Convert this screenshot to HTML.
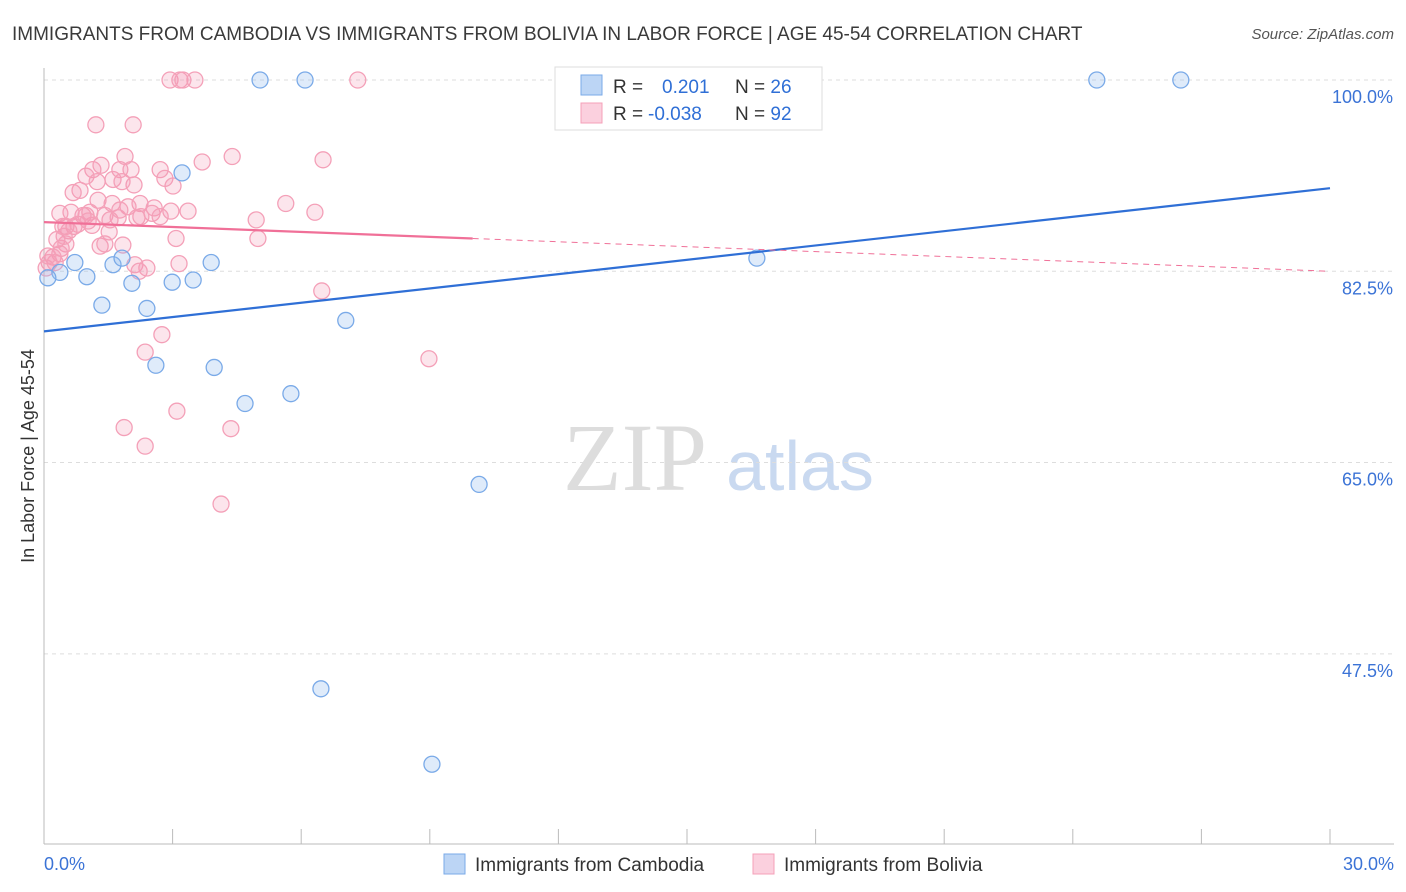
<!DOCTYPE html>
<html><head><meta charset="utf-8"><style>
body{margin:0;background:#fff;font-family:"Liberation Sans",sans-serif;}
svg{display:block}
</style></head><body>
<svg id="chart" width="1406" height="892" xmlns="http://www.w3.org/2000/svg">
<text x="12" y="40" font-size="19" fill="#3a3a3a">IMMIGRANTS FROM CAMBODIA VS IMMIGRANTS FROM BOLIVIA IN LABOR FORCE | AGE 45-54 CORRELATION CHART</text>
<text x="1394" y="39" font-size="15" fill="#555" font-style="italic" text-anchor="end">Source: ZipAtlas.com</text>
<text x="34" y="456" font-size="18" fill="#333" text-anchor="middle" transform="rotate(-90 34 456)">In Labor Force | Age 45-54</text>
<g>
<text x="635" y="490" font-size="96" fill="#ddd" font-family="Liberation Serif,serif" text-anchor="middle">ZIP</text>
<text x="800" y="490" font-size="70" fill="#c9d9f0" text-anchor="middle">atlas</text>
</g>
<g id="grid"></g><g id="axes"></g><g id="marks"></g><g id="lines"></g>
<g>
<rect x="555" y="67" width="267" height="63" fill="#fff" stroke="#ddd"/>
<rect x="581" y="75" width="21" height="20" fill="#bcd5f5" stroke="#7aaae8"/>
<rect x="581" y="103" width="21" height="20" fill="#fbd0de" stroke="#f4a0b8"/>
<text x="613" y="93" font-size="19" fill="#333">R = <tspan fill="#2f6fd6" x="662">0.201</tspan><tspan fill="#333" x="735">N = </tspan><tspan fill="#2f6fd6">26</tspan></text>
<text x="613" y="120" font-size="19" fill="#333">R = <tspan fill="#2f6fd6" x="648">-0.038</tspan><tspan fill="#333" x="735">N = </tspan><tspan fill="#2f6fd6">92</tspan></text>
</g>
<g>
<rect x="444" y="854" width="21" height="20" fill="#bcd5f5" stroke="#7aaae8"/>
<text x="475" y="871" font-size="19" fill="#333">Immigrants from Cambodia</text>
<rect x="753" y="854" width="21" height="20" fill="#fbd0de" stroke="#f4a0b8"/>
<text x="784" y="871" font-size="19" fill="#333">Immigrants from Bolivia</text>
</g>
</svg>
<script>
const yTicks=[100,82.5,65,47.5];
const yTickLabels=["100.0%","82.5%","65.0%","47.5%"];
const xEndLabels=["0.0%","30.0%"];
const blueX=[5.04,6.09,24.56,26.52,3.22,16.63,3.90,0.72,1.61,1.82,1.00,0.37,0.09,2.05,2.99,3.48,1.35,2.40,7.04,2.61,3.97,4.69,5.76,10.15,6.46,9.05];
const blueY=[100,100,100,100,91.5,83.7,83.3,83.3,83.1,83.7,82.0,82.4,81.9,81.4,81.5,81.7,79.4,79.1,78.0,73.9,73.7,70.4,71.3,63.0,44.3,37.4];
const pinkX=[2.94,3.17,3.24,3.52,7.32,1.21,2.08,1.89,4.39,3.69,6.51,2.71,1.14,1.77,1.33,2.03,0.98,2.82,1.61,1.24,3.01,2.10,1.82,0.84,0.68,2.24,1.59,1.96,1.26,5.64,6.32,3.36,2.96,2.57,2.52,2.71,2.26,2.17,1.07,0.63,0.37,0.91,1.42,1.73,4.95,0.70,0.51,0.79,1.12,1.54,0.58,1.52,3.08,4.99,1.84,1.31,0.30,0.51,0.40,0.37,0.21,0.12,0.05,0.26,2.12,2.40,2.22,3.15,0.09,6.48,2.75,2.36,8.98,3.10,1.87,4.36,2.36,4.13,1.42,0.98,1.77,0.47,0.44,1.03];
const pinkY=[100,100,100,100,100,95.9,95.9,93.0,93.0,92.5,92.7,91.8,91.8,91.8,92.2,91.8,91.2,91.0,90.9,90.7,90.3,90.4,90.7,89.9,89.7,88.7,88.7,88.4,89.0,88.7,87.9,88.0,88.0,88.3,87.8,87.5,87.5,87.4,87.9,87.9,87.8,87.6,87.6,87.4,87.2,86.6,86.6,86.8,86.7,87.2,86.2,86.1,85.5,85.5,84.9,84.8,85.4,85.0,84.6,84.1,83.8,83.3,82.8,83.3,83.1,82.8,82.5,83.2,83.9,80.7,76.7,75.1,74.5,69.7,68.2,68.1,66.5,61.2,85.0,87.6,88.1,85.7,86.6,87.1];
const blueTrend=[77.0,90.1];
const pinkTrend=[87.0,82.5];
const pinkSolidEnd=10.0;
const NS="http://www.w3.org/2000/svg";
const X=v=>44+v/30*1286, Y=v=>80+(100-v)*10.93;
function mk(p,t,a){const e=document.createElementNS(NS,t);for(const k in a)e.setAttribute(k,a[k]);p.appendChild(e);return e;}
const grid=document.getElementById('grid'),axes=document.getElementById('axes'),marks=document.getElementById('marks'),lines=document.getElementById('lines');
yTicks.forEach((t,i)=>{
 const l=mk(grid,'line',{x1:44,x2:1394,y1:Y(t),y2:Y(t),stroke:'#ddd','stroke-dasharray':'4,4'});
 
 
 const tx=mk(axes,'text',{x:1393,y:Y(t)+23,'font-size':18,fill:'#3b73d6','text-anchor':'end'});
 tx.textContent=yTickLabels[i];
 
 
});
const ya=mk(axes,'line',{x1:44,x2:44,y1:68,y2:844,stroke:'#bbb'});


const xa=mk(axes,'line',{x1:44,x2:1394,y1:844,y2:844,stroke:'#bbb'});


for(let v=0;v<=30;v+=3){const t=mk(axes,'line',{x1:X(v),x2:X(v),y1:829,y2:844,stroke:'#bbb'});
 
 }
[[0,'start',44],[30,'end',1394]].forEach((d,i)=>{const t=mk(axes,'text',{x:d[2],y:870,'font-size':18,fill:'#3b73d6','text-anchor':d[1]});
 t.textContent=xEndLabels[i];
 
 });
pinkX.forEach((x,i)=>{const c=mk(marks,'circle',{cx:X(x),cy:Y(pinkY[i]),r:8,fill:'rgba(244,150,180,0.25)',stroke:'#f4a0b8','stroke-width':1.3});
 
 });
blueX.forEach((x,i)=>{const c=mk(marks,'circle',{cx:X(x),cy:Y(blueY[i]),r:8,fill:'rgba(150,190,240,0.3)',stroke:'#7aaae8','stroke-width':1.3});
 
 });
const bl=mk(lines,'line',{x1:X(0),y1:Y(blueTrend[0]),x2:X(30),y2:Y(blueTrend[1]),stroke:'#2f6fd6','stroke-width':2.2});


const pm=pinkTrend[0]+(pinkTrend[1]-pinkTrend[0])*pinkSolidEnd/30;
const pl=mk(lines,'line',{x1:X(0),y1:Y(pinkTrend[0]),x2:X(pinkSolidEnd),y2:Y(pm),stroke:'#f07098','stroke-width':2.2});


const pd=mk(lines,'line',{x1:X(pinkSolidEnd),y1:Y(pm),x2:X(30),y2:Y(pinkTrend[1]),stroke:'#f07098','stroke-width':1,'stroke-dasharray':'6,5'});


</script>
</body></html>
